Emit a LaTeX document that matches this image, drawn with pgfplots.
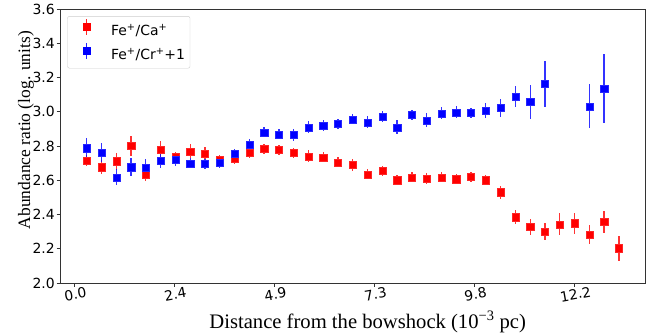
\documentclass[border=0pt]{standalone}
\usepackage{pgfplots}
\pgfplotsset{compat=1.18}
\usepackage{fontspec}
\setmainfont{Liberation Serif}
\newfontfamily\dejavu{DejaVu Sans}

\pgfplotsset{
  errleg/.style={legend image code/.code={
    \path[draw=none, fill=none] (0bp,5bp) -- (0.1bp,5bp);
    \draw[line width=1.3bp, opacity=0.85] (15bp,-3bp) -- (15bp,13bp);
    \draw plot[mark=square*, mark size=3.6bp, mark options={line width=0.3bp}] coordinates {(15bp,5bp)};
  }}
}

\begin{document}
\begin{tikzpicture}
\useasboundingbox (0,0) rectangle (662bp,334bp);
\begin{axis}[
  at={(60bp,51bp)}, anchor=south west,
  width=585bp, height=274bp, scale only axis,
  xmin=-0.342, xmax=13.93, ymin=2.0, ymax=3.6,
  axis line style={black!80, line width=0.9bp},
  tick style={black!80, line width=0.9bp},
  tick align=outside, major tick length=3.5bp,
  xtick pos=bottom, ytick pos=left,
  xtick={0,2.44,4.88,7.32,9.76,12.2},
  xticklabels={0.0,2.4,4.9,7.3,9.8,12.2},
  ytick={2.0,2.2,2.4,2.6,2.8,3.0,3.2,3.4,3.6},
  yticklabel style={/pgf/number format/.cd, fixed, fixed zerofill, precision=1, assume math mode=true},
  ticklabel style={font=\dejavu\fontsize{14}{16}\selectfont, inner sep=1.5bp},
  x tick label style={rotate=10, anchor=north, yshift=-1bp},
  xlabel={Distance from the bowshock (10\textsuperscript{−3} pc)},
  ylabel={Abundance ratio (log. units)},
  xlabel style={font=\fontsize{20.7}{23}\selectfont, at={(axis description cs:0.526,-0.142)}, anchor=center},
  ylabel style={font=\fontsize{17.5}{20}\selectfont, at={(axis description cs:-0.058,0.558)}, anchor=center},
  legend style={at={(axis description cs:0.0125,0.974)}, anchor=north west,
    draw=black!20, rounded corners=2bp, fill=white,
    font=\dejavu\fontsize{14}{17}\selectfont,
    inner xsep=4bp, inner ysep=2bp, row sep=0bp,
    nodes={inner xsep=1bp, inner ysep=3.3bp, text height=11bp, text depth=3bp}},
  legend cell align=left,
]
\addplot[only marks, red, mark=square*, mark size=3.6bp, mark options={line width=0.3bp, draw=red!85}, errleg,
  error bars/.cd, y dir=both, y explicit,
  error bar style={line width=1.3bp, red, opacity=0.8}, error mark=none]
  table[x=x, y=y, y error=e] {
x y e
0.310 2.714 0.033
0.671 2.677 0.040
1.031 2.711 0.050
1.392 2.802 0.058
1.752 2.631 0.037
2.113 2.781 0.050
2.474 2.735 0.030
2.834 2.769 0.040
3.195 2.757 0.035
3.555 2.720 0.030
3.916 2.724 0.030
4.277 2.761 0.030
4.637 2.784 0.030
4.998 2.777 0.030
5.358 2.759 0.030
5.719 2.740 0.035
6.080 2.734 0.030
6.440 2.705 0.030
6.801 2.689 0.035
7.161 2.635 0.030
7.522 2.654 0.030
7.883 2.601 0.030
8.243 2.617 0.030
8.604 2.611 0.030
8.964 2.617 0.030
9.325 2.607 0.030
9.686 2.621 0.030
10.046 2.600 0.030
10.407 2.530 0.037
10.767 2.385 0.042
11.128 2.327 0.047
11.489 2.302 0.049
11.849 2.343 0.064
12.210 2.349 0.060
12.570 2.284 0.054
12.931 2.356 0.064
13.292 2.203 0.074
};
\addlegendentry{\rule{20bp}{0pt}Fe\textsuperscript{+}/Ca\textsuperscript{+}}
\addplot[only marks, blue, mark=square*, mark size=3.6bp, mark options={line width=0.3bp, draw=blue!85}, errleg,
  error bars/.cd, y dir=both, y explicit,
  error bar style={line width=1.3bp, blue, opacity=0.8}, error mark=none]
  table[x=x, y=y, y error=e] {
x y e
0.310 2.787 0.060
0.671 2.763 0.054
1.031 2.617 0.046
1.392 2.676 0.054
1.752 2.673 0.050
2.113 2.714 0.040
2.474 2.722 0.038
2.834 2.699 0.030
3.195 2.695 0.030
3.555 2.705 0.033
3.916 2.755 0.030
4.277 2.810 0.030
4.637 2.880 0.030
4.998 2.868 0.030
5.358 2.866 0.035
5.719 2.909 0.035
6.080 2.919 0.030
6.440 2.930 0.030
6.801 2.956 0.030
7.161 2.938 0.035
7.522 2.973 0.030
7.883 2.909 0.040
8.243 2.981 0.030
8.604 2.950 0.040
8.964 2.991 0.035
9.325 2.997 0.035
9.686 2.993 0.030
10.046 3.006 0.045
10.407 3.022 0.050
10.767 3.088 0.063
11.128 3.057 0.097
11.489 3.162 0.133
12.570 3.032 0.129
12.931 3.137 0.200
};
\addlegendentry{\rule{20bp}{0pt}Fe\textsuperscript{+}/Cr\textsuperscript{+}+1}
\end{axis}
\end{tikzpicture}
\end{document}
